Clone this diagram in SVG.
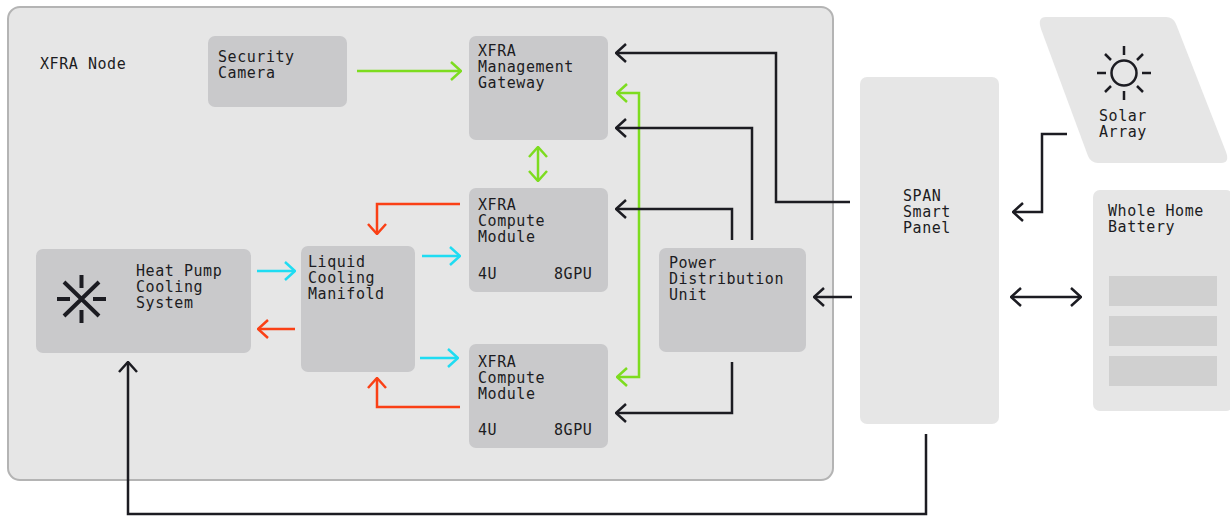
<svg xmlns="http://www.w3.org/2000/svg" width="1230" height="516" viewBox="0 0 1230 516">
<style>
  text{font-family:"DejaVu Sans Mono","Liberation Mono",monospace;font-size:15px;letter-spacing:0.55px;fill:#1c1c22}
  .node{fill:#c9c9cb}
  .light{fill:#e6e6e6}
  .ln{fill:none;stroke-width:2.5;stroke-linecap:butt;stroke-linejoin:miter}
  .k{stroke:#1c1c22}
  .g{stroke:#7ddc1f}
  .r{stroke:#fa4016}
  .c{stroke:#1fdcf2}
  .icon{fill:none;stroke:#1c1c22;stroke-linecap:butt}
</style>
<defs>
  <marker id="ak" viewBox="-11 -10 12 20" markerWidth="12" markerHeight="20" refX="0" refY="0" orient="auto-start-reverse" markerUnits="userSpaceOnUse"><path d="M-10 -9 L0 0 L-10 9" fill="none" stroke="#1c1c22" stroke-width="2.5"/></marker>
  <marker id="ag" viewBox="-11 -10 12 20" markerWidth="12" markerHeight="20" refX="0" refY="0" orient="auto-start-reverse" markerUnits="userSpaceOnUse"><path d="M-10 -9 L0 0 L-10 9" fill="none" stroke="#7ddc1f" stroke-width="2.5"/></marker>
  <marker id="ar" viewBox="-11 -10 12 20" markerWidth="12" markerHeight="20" refX="0" refY="0" orient="auto-start-reverse" markerUnits="userSpaceOnUse"><path d="M-10 -9 L0 0 L-10 9" fill="none" stroke="#fa4016" stroke-width="2.5"/></marker>
  <marker id="ac" viewBox="-11 -10 12 20" markerWidth="12" markerHeight="20" refX="0" refY="0" orient="auto-start-reverse" markerUnits="userSpaceOnUse"><path d="M-10 -9 L0 0 L-10 9" fill="none" stroke="#1fdcf2" stroke-width="2.5"/></marker>
</defs>
<rect width="1230" height="516" fill="#ffffff"/>

<g id="xfra-node">
  <rect x="8" y="7" width="825" height="473" rx="12" fill="#e6e6e6" stroke="#b4b4b4" stroke-width="2"/>
  <text x="40" y="69">XFRA Node</text>
</g>

<g id="security-camera">
  <rect class="node" x="208" y="36" width="139" height="71" rx="7"/>
  <text x="218" y="62">Security</text>
  <text x="218" y="78">Camera</text>
</g>

<g id="management-gateway">
  <rect class="node" x="469" y="36" width="139" height="104" rx="7"/>
  <text x="478" y="56">XFRA</text>
  <text x="478" y="72">Management</text>
  <text x="478" y="88">Gateway</text>
</g>

<g id="compute-module-1">
  <rect class="node" x="469" y="188" width="139" height="104" rx="7"/>
  <text x="478" y="210">XFRA</text>
  <text x="478" y="226">Compute</text>
  <text x="478" y="242">Module</text>
  <text x="478" y="279">4U</text>
  <text x="554" y="279">8GPU</text>
</g>

<g id="compute-module-2">
  <rect class="node" x="469" y="344" width="139" height="104" rx="7"/>
  <text x="478" y="367">XFRA</text>
  <text x="478" y="383">Compute</text>
  <text x="478" y="399">Module</text>
  <text x="478" y="435">4U</text>
  <text x="554" y="435">8GPU</text>
</g>

<g id="heat-pump">
  <rect class="node" x="36" y="249" width="215" height="104" rx="7"/>
  <g class="icon">
    <path d="M64 282 L99 316 M99 282 L64 316" stroke-width="4"/>
    <path d="M57 299 H70 M93 299 H106 M81.5 275 V288 M81.5 310 V323" stroke-width="4"/>
  </g>
  <text x="136" y="276">Heat Pump</text>
  <text x="136" y="292">Cooling</text>
  <text x="136" y="308">System</text>
</g>

<g id="cooling-manifold">
  <rect class="node" x="301" y="246" width="114" height="126" rx="7"/>
  <text x="308" y="267">Liquid</text>
  <text x="308" y="283">Cooling</text>
  <text x="308" y="299">Manifold</text>
</g>

<g id="pdu">
  <rect class="node" x="659" y="248" width="147" height="104" rx="7"/>
  <text x="669" y="268">Power</text>
  <text x="669" y="284">Distribution</text>
  <text x="669" y="300">Unit</text>
</g>

<g id="span-panel">
  <rect class="light" x="860" y="77" width="139" height="347" rx="7"/>
  <text x="903" y="201">SPAN</text>
  <text x="903" y="217">Smart</text>
  <text x="903" y="233">Panel</text>
</g>

<g id="solar-array">
  <path class="light" d="M1046 17 H1166 Q1173 17 1176 24 L1226 152 Q1230 163 1221 163 H1098 Q1091 163 1088 156 L1041 29 Q1037 17 1046 17 Z"/>
  <g class="icon" stroke-width="2.5">
    <circle cx="1124" cy="73" r="12.5"/>
    <path d="M1097 73 H1106 M1142 73 H1151 M1124 46 V55 M1124 91 V100 M1105 54 L1111 60 M1137 86 L1143 92 M1143 54 L1137 60 M1111 86 L1105 92"/>
  </g>
  <text x="1099" y="121">Solar</text>
  <text x="1099" y="137">Array</text>
</g>

<g id="home-battery">
  <rect class="light" x="1093" y="190" width="140" height="221" rx="7"/>
  <text x="1108" y="216">Whole Home</text>
  <text x="1108" y="232">Battery</text>
  <rect x="1109" y="276" width="108" height="30" fill="#d0d0d0"/>
  <rect x="1109" y="316" width="108" height="30" fill="#d0d0d0"/>
  <rect x="1109" y="356" width="108" height="30" fill="#d0d0d0"/>
</g>

<g id="connectors">
  <path class="ln g" d="M357 71 H461" marker-end="url(#ag)"/>
  <path class="ln g" d="M538 147 V181" marker-start="url(#ag)" marker-end="url(#ag)"/>
  <path class="ln g" d="M617 93 H639 V377 H617" marker-start="url(#ag)" marker-end="url(#ag)"/>

  <path class="ln k" d="M850 202 H776 V53 H616" marker-end="url(#ak)"/>
  <path class="ln k" d="M752 240 V128 H616" marker-end="url(#ak)"/>
  <path class="ln k" d="M732 240 V209 H616" marker-end="url(#ak)"/>
  <path class="ln k" d="M732 362 V413 H616" marker-end="url(#ak)"/>
  <path class="ln k" d="M852 297 H814" marker-end="url(#ak)"/>
  <path class="ln k" d="M1067 134 H1042 V212 H1013" marker-end="url(#ak)"/>
  <path class="ln k" d="M1011 297 H1081" marker-start="url(#ak)" marker-end="url(#ak)"/>
  <path class="ln k" d="M926 434 V514 H128 V362" marker-end="url(#ak)"/>

  <path class="ln r" d="M460 204 H377 V234" marker-end="url(#ar)"/>
  <path class="ln r" d="M295 329 H258" marker-end="url(#ar)"/>
  <path class="ln r" d="M460 407 H377 V378" marker-end="url(#ar)"/>

  <path class="ln c" d="M257 271 H295" marker-end="url(#ac)"/>
  <path class="ln c" d="M422 256 H460" marker-end="url(#ac)"/>
  <path class="ln c" d="M420 358 H458" marker-end="url(#ac)"/>
</g>
</svg>
